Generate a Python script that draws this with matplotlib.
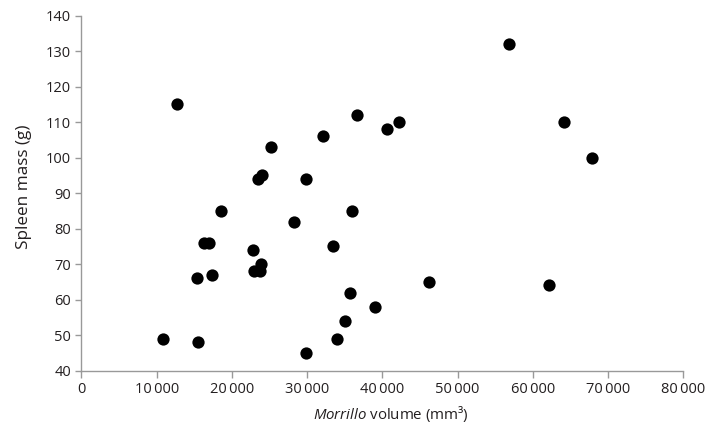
import matplotlib
matplotlib.use("Agg")
import matplotlib.pyplot as plt

plt.rcParams['font.family'] = ['Open Sans', 'DejaVu Sans']
plt.rcParams['mathtext.fontset'] = 'custom'
plt.rcParams['mathtext.rm'] = 'Open Sans'
plt.rcParams['mathtext.it'] = 'Open Sans:italic'

volume = [12700, 36600, 40600, 32100, 25200, 23400, 24000, 29800, 56800, 42200,
          64100, 67800, 46200, 62100, 18500, 28300, 35900, 16300, 17000, 22800,
          33400, 23800, 22900, 23700, 17300, 15400, 35700, 39000, 35000, 10900,
          15500, 34000, 29800]
spleen = [115, 112, 108, 106, 103, 94, 95, 94, 132, 110,
          110, 100, 65, 64, 85, 82, 85, 76, 76, 74,
          75, 70, 68, 68, 67, 66, 62, 58, 54, 49,
          48, 49, 45]

x_ticks = [0, 10000, 20000, 30000, 40000, 50000, 60000, 70000, 80000]
x_tick_labels = ["0", "10\u2009000", "20\u2009000", "30\u2009000", "40\u2009000",
                 "50\u2009000", "60\u2009000", "70\u2009000", "80\u2009000"]
y_ticks = [40, 50, 60, 70, 80, 90, 100, 110, 120, 130, 140]

fig = plt.figure(figsize=(7.18, 4.33), dpi=100)
ax = fig.add_axes([0.1135, 0.1439, 0.8382, 0.8198])
ax.scatter(volume, spleen, s=78, color='black', zorder=3, linewidths=0)

ax.set_xlim(0, 80000)
ax.set_ylim(40, 140)
ax.set_xticks(x_ticks)
ax.set_xticklabels(x_tick_labels)
ax.set_yticks(y_ticks)

for s in ['top', 'right']:
    ax.spines[s].set_visible(False)
for s in ['left', 'bottom']:
    ax.spines[s].set_color('#999999')
    ax.spines[s].set_linewidth(1.0)
ax.tick_params(axis='both', colors='#999999', length=5, width=1.0,
               labelcolor='#231f20', labelsize=10.5, direction='out')
ax.tick_params(axis='y', length=4)

ax.set_xlabel(r'$\mathit{Morrillo}$ volume (mm³)', fontsize=10.8, color='#231f20')
ax.set_ylabel('Spleen mass (g)', fontsize=12.3, color='#231f20')
ax.xaxis.set_label_coords(0.514, -0.095)
ax.yaxis.set_label_coords(-0.083, 0.517)

fig.savefig('out.png', dpi=100)
